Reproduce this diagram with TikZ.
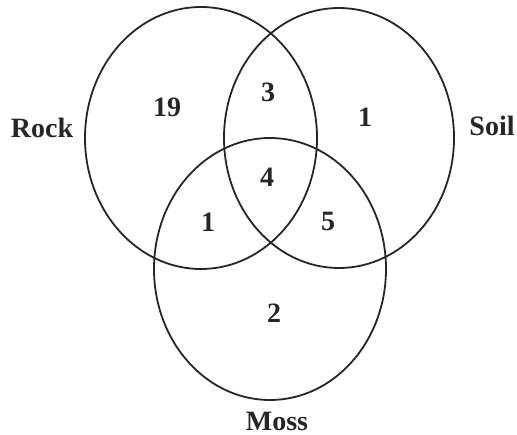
\documentclass[tikz,border=0pt]{standalone}
\usepackage{fontspec}
\setmainfont{Liberation Serif}
\begin{document}
\begin{tikzpicture}[x=1pt,y=-1pt,
  setline/.style={line width=1.8pt, black!85},
  lbl/.style={font=\fontsize{28}{30}\bfseries\selectfont, inner sep=0pt, text=black!85}]
\useasboundingbox (0,0) rectangle (517,435);
\draw[setline] (201,138) ellipse [x radius=116pt, y radius=131pt];
\draw[setline] (339,138) ellipse [x radius=115pt, y radius=130pt];
\draw[setline] (270,269) ellipse [x radius=116pt, y radius=131pt];
\node[lbl] (rock) at (42,128) {Rock};
\node[lbl] (soil) at (492,126) {Soil};
\node[lbl] (moss) at (277,421) {Moss};
\node[lbl] (n19) at (167,107) {19};
\node[lbl] (n3) at (268,92) {3};
\node[lbl] (n1r) at (365,117) {1};
\node[lbl] (n4) at (267,177) {4};
\node[lbl] (n1l) at (208,222) {1};
\node[lbl] (n5) at (328,221) {5};
\node[lbl] (n2) at (274,313) {2};
\end{tikzpicture}
\end{document}
